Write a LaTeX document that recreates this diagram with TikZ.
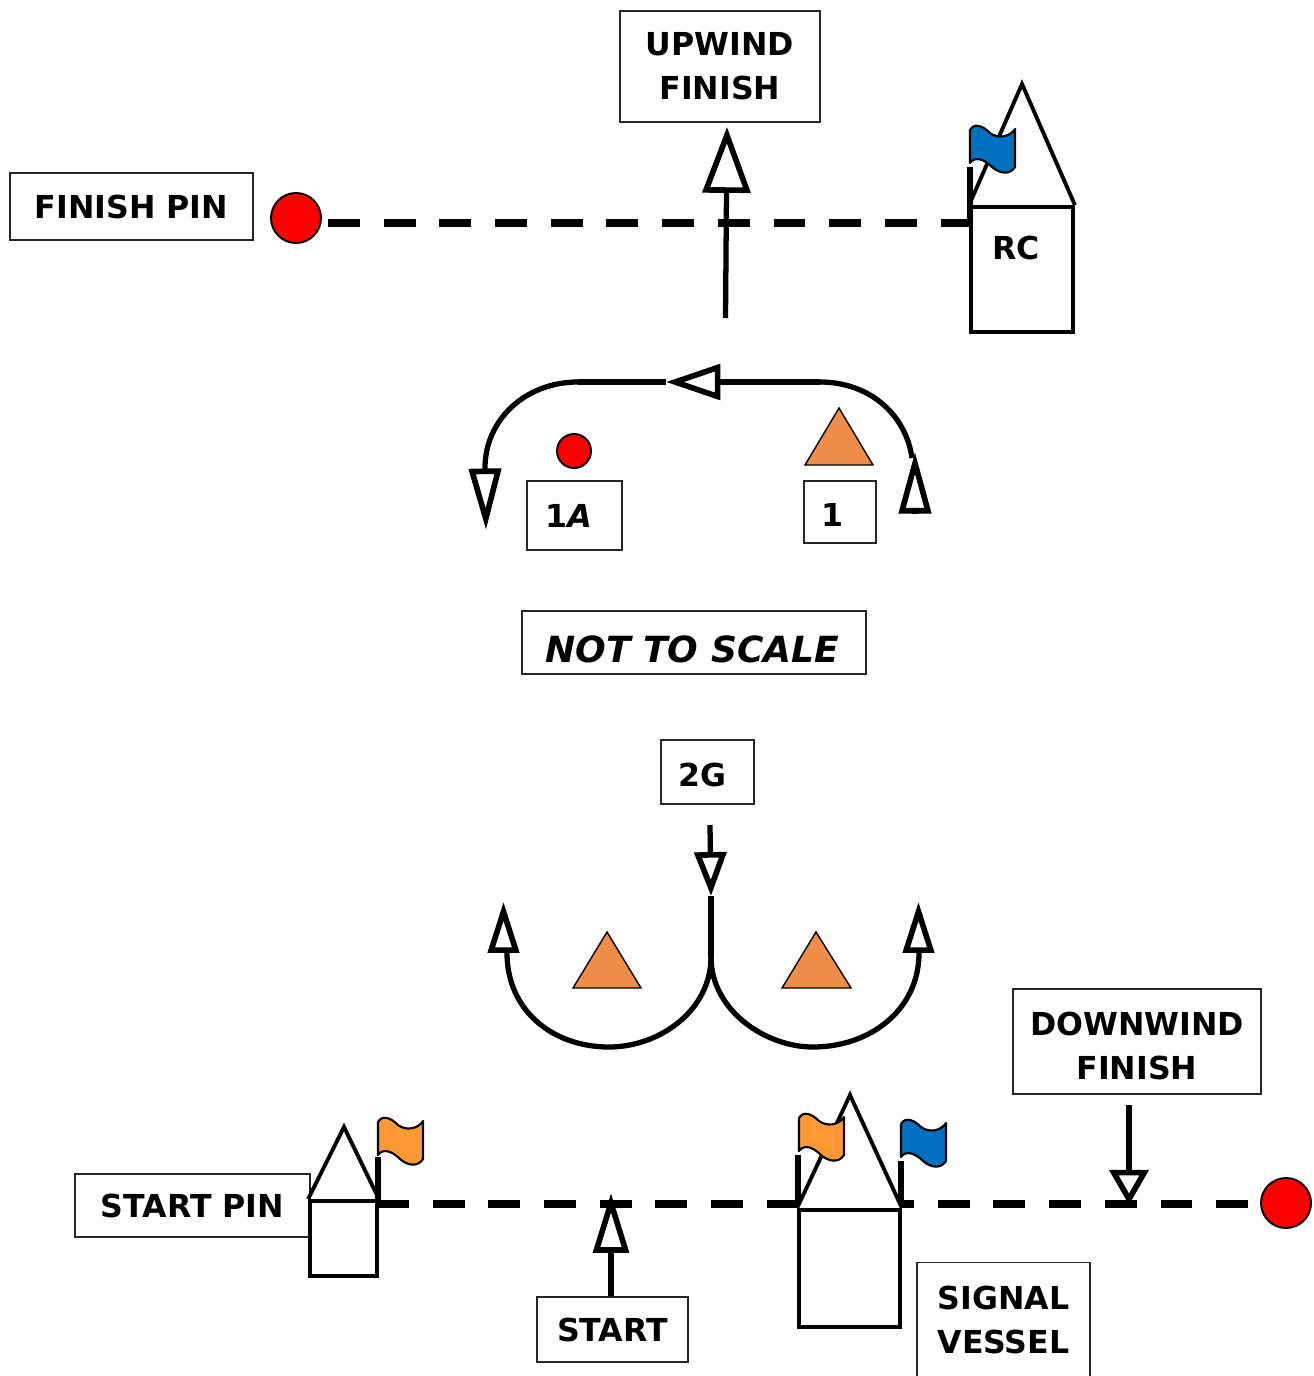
\documentclass[tikz,border=0pt]{standalone}
\usepackage{fontspec}
\setmainfont{DejaVu Sans}
\usetikzlibrary{arrows.meta}
\definecolor{markorange}{HTML}{F08D49}
\definecolor{flagorange}{HTML}{FF9933}
\definecolor{flagblue}{HTML}{0070C0}
\newcommand{\windflag}[3]{\draw[flagedge,fill=#3,shift={(#1,#2)}] (0,0) .. controls (4,-7) and (12,-5) .. (20,3) .. controls (28,9) and (40,7) .. (45,-1) -- (45,37) .. controls (40,45) and (30,44) .. (22,37) .. controls (14,29) and (5,26) .. (0,33) -- cycle;}
\begin{document}
\begin{tikzpicture}
[
x=0.02cm, y=-0.02cm,
labelbox/.style={rectangle, draw=black!85, fill=white, line width=1.1pt, font=\bfseries\fontsize{18}{25}\selectfont, align=center, inner sep=0pt},
hull/.style={rectangle, draw=black, line width=2.2pt, inner sep=0pt},
hulltext/.style={font=\bfseries\fontsize{18}{25}\selectfont, inner sep=0pt},
roof/.style={draw=black, line width=2.2pt, line join=miter},
pole/.style={draw=black, line width=3.2pt},
flagedge/.style={draw=black, line width=1.2pt, line join=round},
markshape/.style={draw=black, line width=0.8pt, fill=markorange, line join=miter},
pin/.style={circle, draw=black, fill=red, line width=1.1pt, inner sep=0pt},
finishline/.style={draw=black, line width=4.2pt, dash pattern=on 18.1pt off 13.6pt},
course/.style={draw=black, line width=3pt},
bigarrow/.style={course, -{Triangle[length=37.5pt,width=27pt,fill=white,line width=3.2pt]}},
midarrow/.style={course, -{Triangle[length=31pt,width=20pt,fill=white,line width=3.2pt]}},
sidearrow/.style={course, -{Triangle[length=35pt,width=18pt,fill=white,line width=3.2pt]}},
gatearrow/.style={course, -{Triangle[length=25pt,width=18pt,fill=white,line width=3.2pt]}},
uparrow/.style={course, -{Triangle[length=29pt,width=17.5pt,fill=white,line width=3.2pt]}},
startarrow/.style={course, -{Triangle[length=34pt,width=20pt,fill=white,line width=3.2pt]}},
downarrow/.style={course, -{Triangle[length=20pt,width=22pt,fill=white,line width=3.2pt]}},
]
\path[use as bounding box, clip] (0,0) rectangle (1314,1376);

% top finish
\node at (131.5,206.5) [labelbox, minimum width=4.86cm, minimum height=1.34cm] (finishlabel) {FINISH PIN};
\node at (720,66.5) [labelbox, minimum width=4cm, minimum height=2.22cm] (upwindlabel) {UPWIND\\FINISH};
\node at (296,218) [pin, minimum size=1cm] (finishpin) {};
\node at (1022,269.5) [hull, minimum width=2.04cm, minimum height=2.5cm] (rchull) {};
\node at (1016,248) [hulltext] (rclabel) {RC};
\coordinate (rcport) at (975,223);
\coordinate (rctop) at (1022,84);
\coordinate (finishtail) at (725.5,318);
\coordinate (finishhead) at (727,127);

\draw[roof] (rchull.north west) -- (rctop) -- (rchull.north east);
\draw[finishline] (328,223) -- (rcport);
\draw[bigarrow] (finishtail) -- (finishhead);
\windflag{970}{130}{flagblue}
\draw[pole] (970,167) -- (970,225);

% marks 1 and 1A
\coordinate (toprightend) at (912,458);
\coordinate (toprightbend) at (820,382);
\coordinate (topleftbend) at (578,382);
\coordinate (topmidhead) at (666,382);
\coordinate (topleftend) at (486,530);
\coordinate (topleftdown) at (485,468);
\coordinate (righttipfoot) at (915,514);
\coordinate (righttiphead) at (915,452);

\draw[sidearrow] (righttipfoot) -- (righttiphead);
\draw[course] (toprightend) .. controls (906,415) and (870,382) .. (toprightbend);
\draw[midarrow] (toprightbend) -- (topmidhead);
\draw[course] (topmidhead) -- (topleftbend);
\draw[sidearrow] (topleftbend) .. controls (525,382) and (485,420) .. (topleftdown) -- (topleftend);
\draw[markshape] (805,465) -- (839,408) -- (873,465) -- cycle;
\node at (574,451) [pin, minimum size=0.68cm] (onepin) {};
\node at (574.5,515.5) [labelbox, minimum width=1.9cm, minimum height=1.38cm] (onealabel) {1\textit{A}\hspace{6.8pt}};
\node at (840,512) [labelbox, minimum width=1.44cm, minimum height=1.24cm] (onelabel) {\raisebox{-8.5pt}[0pt][0pt]{1}\hspace{8pt}};

\node at (694,642.5) [labelbox, minimum width=6.88cm, minimum height=1.26cm, font=\bfseries\itshape\fontsize{20.5}{26}\selectfont] (scalelabel) {\raisebox{-11.5pt}[0pt][0pt]{NOT TO SCALE}\hspace{2pt}};

% marks 2G
\node at (707.5,772) [labelbox, minimum width=1.86cm, minimum height=1.28cm] (twoglabel) {\raisebox{-8.5pt}[0pt][0pt]{2G}\hspace{6pt}};
\coordinate (gatetail) at (710,825);
\coordinate (gatehead) at (711,896);
\coordinate (gatefoot) at (711,957);
\coordinate (leftlow) at (609,1047);
\coordinate (rightlow) at (813,1047);
\coordinate (leftup) at (507,953);
\coordinate (rightup) at (919,953);
\coordinate (leftfoot) at (503.5,953);
\coordinate (rightfoot) at (918.5,953);
\coordinate (lefthead) at (503.5,902);
\coordinate (righthead) at (918.5,902);

\draw[course] (gatefoot) -- (gatehead);
\draw[gatearrow] (gatetail) -- (gatehead);
\draw[course] (gatefoot) .. controls (711,1010) and (660,1047) .. (leftlow) .. controls (552,1047) and (507,1010) .. (leftup);
\draw[course] (gatefoot) .. controls (711,1010) and (765,1047) .. (rightlow) .. controls (870,1047) and (919,1010) .. (rightup);
\draw[uparrow] (leftfoot) -- (lefthead);
\draw[uparrow] (rightfoot) -- (righthead);
\draw[markshape] (573,988) -- (607,932) -- (641,988) -- cycle;
\draw[markshape] (782,988) -- (816,932) -- (851,988) -- cycle;

% start and downwind finish
\node at (192.5,1205.5) [labelbox, minimum width=4.7cm, minimum height=1.26cm] (startpinlabel) {START PIN};
\node at (343.5,1238.5) [hull, minimum width=1.34cm, minimum height=1.5cm] (pinhull) {};
\coordinate (pintop) at (344,1127);
\node at (849.5,1268.5) [hull, minimum width=2.02cm, minimum height=2.34cm] (signalhull) {};
\coordinate (signaltop) at (850,1095);
\node at (1286,1203) [pin, minimum size=1cm] (startpin) {};
\node at (612.5,1329.5) [labelbox, minimum width=3.02cm, minimum height=1.3cm] (startlabel) {START};
\node at (1137,1041.5) [labelbox, minimum width=4.96cm, minimum height=2.1cm] (downwindlabel) {\rule{0pt}{18pt}DOWNWIND\\FINISH};
\node at (1003.5,1320) [labelbox, minimum width=3.46cm, minimum height=2.3cm, anchor=center] (signallabel) {SIGNAL\\VESSEL};
\coordinate (lineleft) at (377,1204);
\coordinate (lineright) at (1251,1204);
\coordinate (signalleft) at (801,1204);
\coordinate (signalright) at (900,1204);
\coordinate (starthead) at (611,1193);
\coordinate (downtail) at (1129,1105);
\coordinate (downhead) at (1129,1205);

\draw[roof] (pinhull.north west) -- (pintop) -- (pinhull.north east);
\draw[finishline] (lineleft) -- (signalleft);
\draw[finishline, dash phase=10.2pt] (signalright) -- (lineright);
\draw[roof] (signalhull.north west) -- (signaltop) -- (signalhull.north east);
\draw[startarrow] (startlabel.north -| starthead) -- (starthead);
\draw[downarrow] (downtail) -- (downhead);
\windflag{378}{1122}{flagorange}
\draw[pole] (378,1157) -- (378,1205);
\windflag{799}{1118}{flagorange}
\draw[pole] (798,1155) -- (798,1205);
\windflag{901}{1124}{flagblue}
\draw[pole] (901,1161) -- (901,1205);
\end{tikzpicture}
\end{document}
